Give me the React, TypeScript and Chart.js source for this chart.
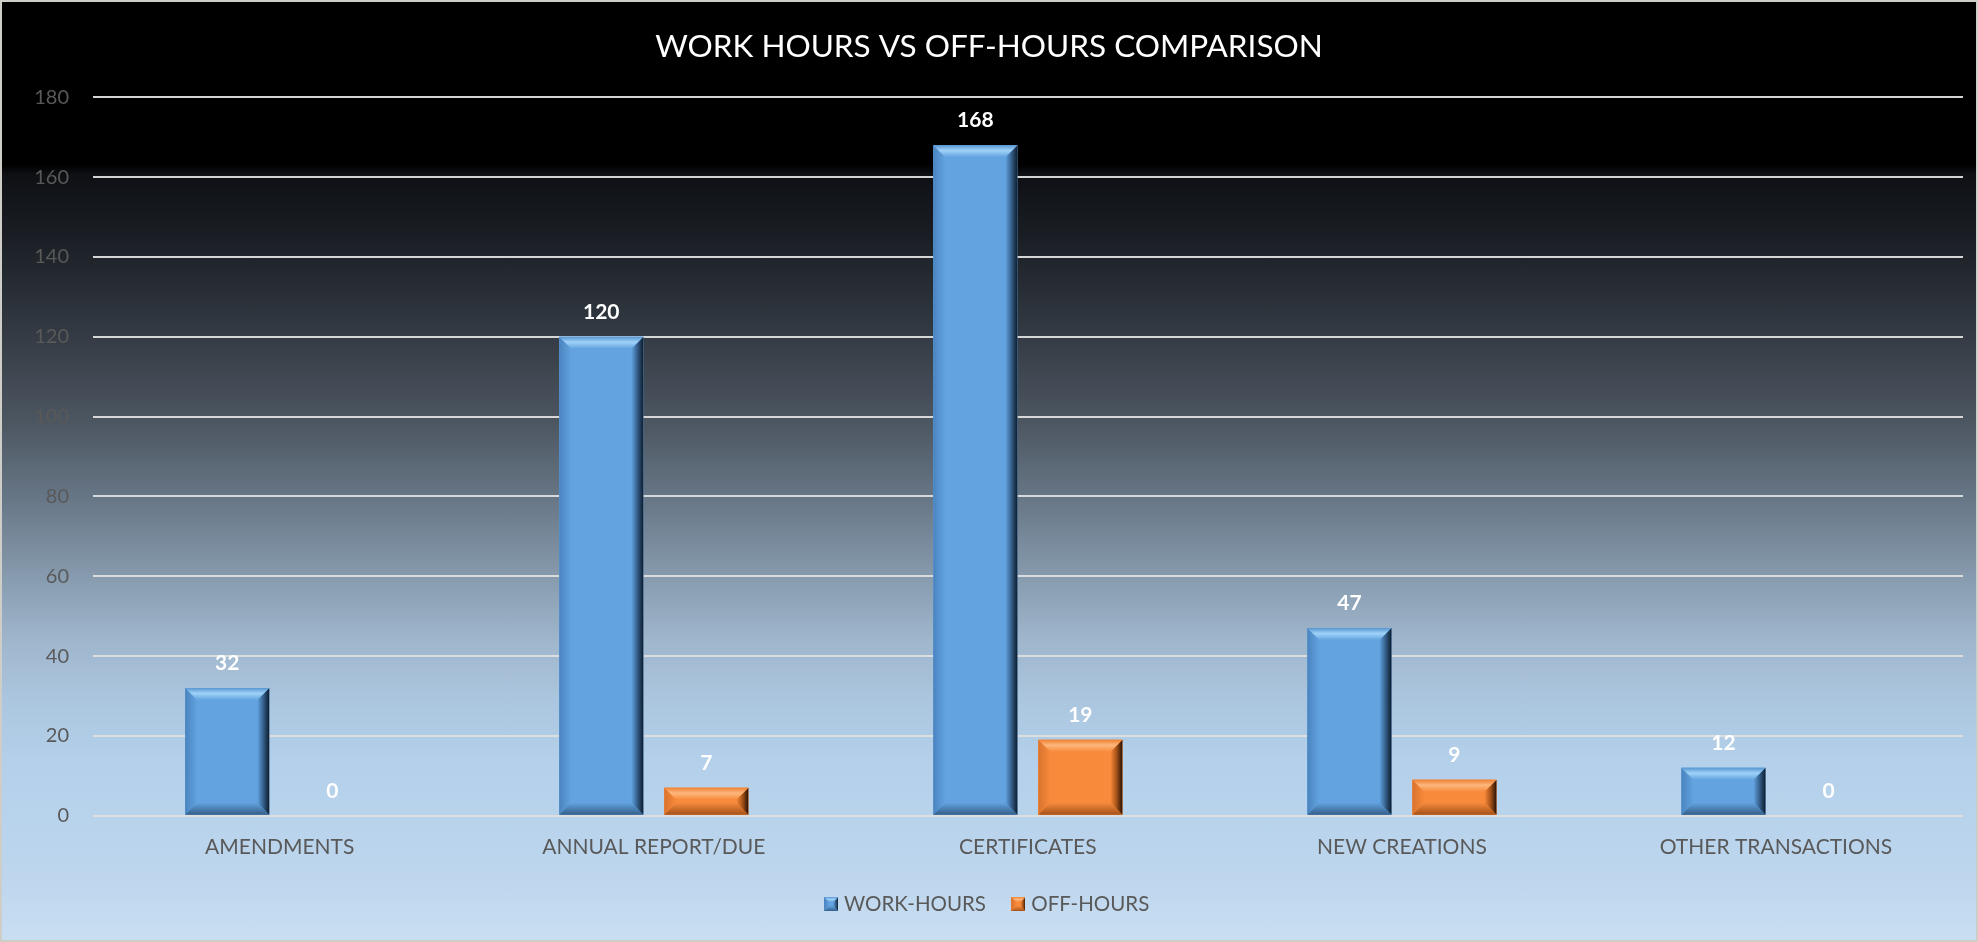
import React, { useEffect, useRef } from 'react';
import { Chart, registerables } from 'chart.js';

Chart.register(...registerables);

// ---- data ----
const categories = ['AMENDMENTS', 'ANNUAL REPORT/DUE', 'CERTIFICATES', 'NEW CREATIONS', 'OTHER TRANSACTIONS'];
const seriesNames = ['WORK-HOURS', 'OFF-HOURS'];
const workHours = [32, 120, 168, 47, 12];
const offHours = [0, 7, 19, 9, 0];
const yMin = 0;
const yMax = 180;
const yStep = 20;
const chartTitle = 'WORK HOURS VS OFF-HOURS COMPARISON';

// ---- styles ----
const W = 1978;
const H = 942;
const FONT = 'Lato, "Open Sans", sans-serif';
const TEXT_GRAY = '#595959';

type Pal = { face: string; light: string; top: string; left: string; right: string; rightMid: string; bottom: string };
const palettes: Pal[] = [
  { face: '#62a3e0', light: '#9fd2f8', top: '#5896d2', left: '#4a84bf', right: '#0e1c2b', rightMid: '#35608c', bottom: '#345f8a' },
  { face: '#f88a3b', light: '#fdb77d', top: '#ee8235', left: '#d9732e', right: '#2a1204', rightMid: '#a85419', bottom: '#a4521a' },
];

function poly(ctx: CanvasRenderingContext2D, pts: number[][], fill: string | CanvasGradient) {
  ctx.beginPath();
  ctx.moveTo(pts[0][0], pts[0][1]);
  for (let i = 1; i < pts.length; i++) ctx.lineTo(pts[i][0], pts[i][1]);
  ctx.closePath();
  ctx.fillStyle = fill;
  ctx.fill();
}

function drawBevel(ctx: CanvasRenderingContext2D, L: number, T: number, R: number, B: number, p: Pal, bevelMax: number) {
  const w = R - L;
  const h = B - T;
  if (h <= 0.5 || w <= 0.5) return;
  const b = Math.min(bevelMax, w / 2, h / 2.2);
  ctx.save();
  ctx.fillStyle = p.face;
  ctx.fillRect(L, T, w, h);
  let g = ctx.createLinearGradient(L, 0, L + b, 0);
  g.addColorStop(0, p.left);
  g.addColorStop(1, p.face);
  poly(ctx, [[L, T], [L + b, T + b], [L + b, B - b], [L, B]], g);
  g = ctx.createLinearGradient(R - b, 0, R, 0);
  g.addColorStop(0, p.face);
  g.addColorStop(0.5, p.rightMid);
  g.addColorStop(1, p.right);
  poly(ctx, [[R, T], [R, B], [R - b, B - b], [R - b, T + b]], g);
  g = ctx.createLinearGradient(0, B - b, 0, B);
  g.addColorStop(0, p.face);
  g.addColorStop(1, p.bottom);
  poly(ctx, [[L, B], [R, B], [R - b, B - b], [L + b, B - b]], g);
  g = ctx.createLinearGradient(0, T, 0, T + b);
  g.addColorStop(0, p.top);
  g.addColorStop(0.45, p.light);
  g.addColorStop(1, p.face);
  poly(ctx, [[L, T], [R, T], [R - b, T + b], [L + b, T + b]], g);
  ctx.restore();
}

const bevelPlugin = {
  id: 'bevelBars',
  afterDatasetsDraw(chart: any) {
    const ctx = chart.ctx as CanvasRenderingContext2D;
    chart.data.datasets.forEach((_ds: any, di: number) => {
      const meta = chart.getDatasetMeta(di);
      meta.data.forEach((bar: any) => {
        const L = bar.x - bar.width / 2;
        const R = bar.x + bar.width / 2;
        const T = Math.min(bar.y, bar.base);
        const B = Math.max(bar.y, bar.base);
        drawBevel(ctx, L, T, R, B, palettes[di], 12);
      });
    });
  },
};

const valueLabelPlugin = {
  id: 'valueLabels',
  afterDatasetsDraw(chart: any) {
    const ctx = chart.ctx as CanvasRenderingContext2D;
    ctx.save();
    ctx.font = `bold 21px ${FONT}`;
    ctx.fillStyle = '#ffffff';
    ctx.textAlign = 'center';
    ctx.textBaseline = 'alphabetic';
    chart.data.datasets.forEach((ds: any, di: number) => {
      const meta = chart.getDatasetMeta(di);
      meta.data.forEach((bar: any, i: number) => {
        ctx.fillText(String(ds.data[i]), bar.x, Math.min(bar.y, bar.base) - 18);
      });
    });
    ctx.restore();
  },
};

function makeIcon(p: Pal): HTMLCanvasElement {
  const c = document.createElement('canvas');
  c.width = 14;
  c.height = 14;
  const ctx = c.getContext('2d')!;
  drawBevel(ctx, 0, 0, 14, 14, p, 5);
  return c;
}

export default function App() {
  const canvasRef = useRef<HTMLCanvasElement | null>(null);

  useEffect(() => {
    document.body.style.margin = '0';
    document.body.style.overflow = 'hidden';
    const icons = palettes.map(makeIcon);
    const chart = new Chart(canvasRef.current!, {
      type: 'bar',
      data: {
        labels: categories,
        datasets: [
          { label: seriesNames[0], data: workHours, backgroundColor: palettes[0].face, borderWidth: 0 },
          { label: seriesNames[1], data: offHours, backgroundColor: palettes[1].face, borderWidth: 0 },
        ],
      },
      options: {
        responsive: false,
        maintainAspectRatio: false,
        animation: false,
        devicePixelRatio: 1,
        layout: { padding: { left: 15, right: 15, top: 0, bottom: 17.75 } },
        datasets: { bar: { categoryPercentage: 0.5615, barPercentage: 0.8 } },
        plugins: {
          tooltip: { enabled: false },
          title: {
            display: true,
            text: chartTitle,
            color: '#ffffff',
            font: { family: FONT, size: 31.5, weight: 'normal', lineHeight: 1.2 },
            padding: { top: 28.1, bottom: 31.4 },
          },
          legend: {
            display: true,
            position: 'bottom',
            labels: {
              color: TEXT_GRAY,
              font: { family: FONT, size: 20.5 },
              boxWidth: 14,
              boxHeight: 14,
              padding: 30,
              usePointStyle: true,
              pointStyleWidth: 5,
              generateLabels: (c: any) =>
                (Chart.defaults.plugins.legend.labels.generateLabels as any)(c).map((it: any, i: number) => ({
                  ...it,
                  pointStyle: icons[i],
                })),
            },
          },
        },
        scales: {
          x: {
            grid: { display: false, drawTicks: false },
            border: { display: false },
            ticks: { color: TEXT_GRAY, font: { family: FONT, size: 21 }, padding: 19.2, maxRotation: 0, autoSkip: false },
            afterFit: (s: any) => {
              s.height = 48.05;
            },
          },
          y: {
            min: yMin,
            max: yMax,
            ticks: { stepSize: yStep, color: TEXT_GRAY, font: { family: FONT, size: 20 }, padding: 23.7 },
            grid: { color: 'rgba(222,222,222,0.95)', lineWidth: 2, drawTicks: false },
            border: { display: false },
            afterFit: (s: any) => {
              s.width = 77.7;
            },
          },
        },
      } as any,
      plugins: [bevelPlugin, valueLabelPlugin],
    });
    let alive = true;
    if ((document as any).fonts) {
      Promise.all([
        document.fonts.load(`32px Lato`),
        document.fonts.load(`bold 20px Lato`),
      ]).then(() => {
        if (alive) chart.update();
      }).catch(() => {});
    }
    return () => {
      alive = false;
      chart.destroy();
    };
  }, []);

  const bg =
    'linear-gradient(to bottom, #000000 0%, #000000 17.5%, #0e1014 18.5%, #1a1e24 25%, #353c45 36%, #4d5762 45%, #6b7b8b 54%, #8a9eb2 62%, #9fb6cc 68%, #abc5de 74%, #b4d0ea 81%, #bdd6ee 93%, #c9def1 100%)';

  return (
    <div style={{ position: 'relative', width: W, height: H, background: bg, overflow: 'hidden' }}>
      <canvas ref={canvasRef} width={W} height={H} style={{ position: 'absolute', left: 0, top: 0, width: W, height: H }} />
      <div
        style={{
          position: 'absolute',
          left: 0,
          top: 0,
          width: W,
          height: H,
          boxSizing: 'border-box',
          border: '2px solid #cfcdc8',
          pointerEvents: 'none',
        }}
      />
    </div>
  );
}
